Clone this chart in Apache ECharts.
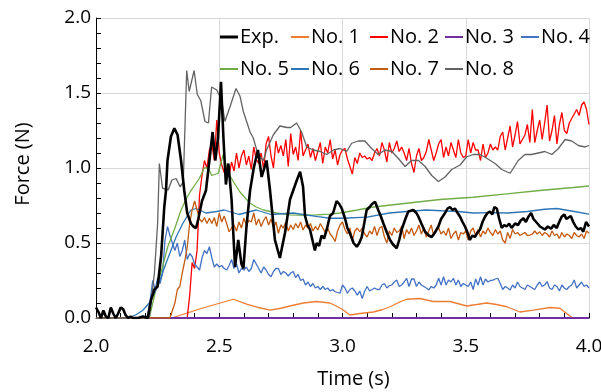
<!DOCTYPE html>
<html><head><meta charset="utf-8">
<script src="https://cdn.jsdelivr.net/npm/echarts@6/dist/echarts.min.js"></script>
<style>html,body{margin:0;padding:0;background:#fff}#c{width:601px;height:392px}</style>
</head><body><div id="c"></div>
<script>
// ---------- DATA (time s, force N) ----------
const seriesNames = ['Exp.','No. 1','No. 2','No. 3','No. 4','No. 5','No. 6','No. 7','No. 8'];
const xTickLabels = ['2.0','2.5','3.0','3.5','4.0'];
const yTickLabels = ['0.0','0.5','1.0','1.5','2.0'];

const expData = [[2.00,0.07],[2.01,0.04],[2.02,0.0],[2.03,0.05],[2.04,0.01],[2.05,0.0],[2.06,0.07],[2.07,0.03],[2.08,0.0],[2.09,0.03],[2.10,0.07],[2.11,0.06],[2.12,0.02],[2.13,0.0],[2.14,0.01],[2.15,0.0],[2.17,0.0],[2.19,0.01],[2.21,0.0],
[2.223,0.12],[2.237,0.19],[2.25,0.21],[2.264,0.41],[2.277,0.74],[2.284,0.85],[2.29,1.05],[2.304,1.21],[2.318,1.265],[2.331,1.22],[2.345,1.05],[2.358,0.85],[2.37,0.7],[2.385,0.63],[2.395,0.61],[2.406,0.6],[2.415,0.66],[2.43,0.78],[2.446,0.85],[2.46,1.05],[2.473,1.24],[2.484,1.05],[2.495,1.2],[2.507,1.575],[2.517,1.2],[2.527,0.89],[2.537,1.03],[2.55,0.79],[2.564,0.34],[2.577,0.52],[2.59,0.36],[2.598,0.33],[2.61,0.6],[2.625,0.85],[2.64,1.0],[2.657,1.12],[2.672,0.94],[2.692,1.05],[2.706,0.85],[2.726,0.52],[2.746,0.4],[2.767,0.57],[2.787,0.79],[2.80,0.85],[2.815,0.92],[2.828,0.975],[2.84,0.875],[2.848,0.68],[2.858,0.62],[2.868,0.59],[2.878,0.52],[2.888,0.45],[2.895,0.5],[2.905,0.48],[2.915,0.55],[2.925,0.53],[2.936,0.59],[2.949,0.68],[2.962,0.7],[2.976,0.78],[2.987,0.76],[2.997,0.73],
[3.01,0.665],[3.02,0.6],[3.03,0.565],[3.045,0.5],[3.058,0.475],[3.068,0.5],[3.078,0.54],[3.088,0.63],[3.098,0.72],[3.11,0.74],[3.12,0.76],[3.132,0.775],[3.145,0.72],[3.155,0.68],[3.166,0.63],[3.18,0.57],[3.193,0.52],[3.205,0.49],[3.22,0.465],[3.23,0.52],[3.24,0.59],[3.255,0.66],[3.267,0.71],[3.287,0.72],[3.3,0.70],[3.308,0.675],[3.32,0.63],[3.335,0.575],[3.35,0.55],[3.362,0.54],[3.375,0.57],[3.389,0.61],[3.4,0.66],[3.416,0.70],[3.426,0.73],[3.436,0.74],[3.446,0.72],[3.456,0.73],[3.467,0.70],[3.477,0.675],[3.487,0.64],[3.497,0.61],[3.507,0.57],[3.517,0.52],[3.527,0.55],[3.537,0.54],[3.548,0.57],[3.558,0.59],[3.568,0.64],[3.578,0.675],[3.588,0.70],[3.598,0.71],[3.608,0.69],[3.616,0.74],[3.626,0.73],[3.636,0.66],[3.646,0.60],[3.656,0.62],[3.666,0.61],[3.676,0.63],[3.686,0.60],[3.7,0.63],[3.712,0.62],[3.723,0.65],[3.734,0.665],[3.744,0.64],[3.754,0.675],[3.765,0.70],[3.775,0.66],[3.781,0.665],[3.791,0.63],[3.801,0.61],[3.811,0.60],[3.821,0.59],[3.833,0.61],[3.846,0.595],[3.857,0.62],[3.869,0.60],[3.879,0.64],[3.889,0.675],[3.9,0.69],[3.908,0.66],[3.916,0.665],[3.926,0.68],[3.936,0.64],[3.946,0.61],[3.957,0.59],[3.967,0.60],[3.977,0.575],[3.988,0.64],[4.0,0.61]];

const no1Data = [[2.0,0],[2.307,0],[2.43,0.065],[2.557,0.125],[2.611,0.093],[2.66,0.07],[2.706,0.053],[2.75,0.065],[2.787,0.08],[2.841,0.10],[2.895,0.11],[2.949,0.10],[2.975,0.08],[3.003,0.053],[3.03,0.02],[3.071,0.03],[3.125,0.04],[3.16,0.055],[3.193,0.075],[3.23,0.105],[3.26,0.125],[3.314,0.13],[3.368,0.11],[3.436,0.11],[3.504,0.08],[3.545,0.09],[3.585,0.1],[3.625,0.09],[3.666,0.075],[3.72,0.04],[3.774,0.053],[3.842,0.07],[3.882,0.065],[3.909,0.03],[3.93,0.005],[3.94,0],[4.0,0]];

const no2Data = [[2.0,0],[2.37,0],[2.38,0.15],[2.39,0.37],[2.40,0.33],[2.41,0.45],[2.42,0.82],[2.43,0.95],[2.44,1.05],[2.45,1.00],[2.46,1.12],[2.47,1.16],[2.48,1.05],[2.49,1.32],[2.50,1.10],[2.51,1.02],[2.52,0.97],[2.53,1.01],[2.54,0.95],[2.55,1.04],[2.56,0.98],[2.57,1.10],[2.58,1.00],[2.59,1.08],[2.60,1.12],[2.61,1.02],[2.62,1.08],[2.63,0.99],[2.64,1.14],[2.65,1.06],[2.66,1.03],[2.67,1.10],[2.68,0.99],[2.69,1.16],[2.70,1.21],[2.71,1.08],[2.72,1.00],[2.73,1.18],[2.74,1.10],[2.75,1.15],[2.76,1.08],[2.77,1.19],[2.78,1.01],[2.79,1.23],[2.80,1.09],[2.81,1.14],[2.82,1.05],[2.83,1.25],[2.84,1.08],[2.85,1.12],[2.86,1.16],[2.87,1.07],[2.88,1.13],[2.89,1.05],[2.90,1.11],[2.91,1.17],[2.92,1.03],[2.93,1.14],[2.94,1.10],[2.95,1.19],[2.96,1.06],[2.97,1.12],[2.98,1.02],[2.99,1.09],
[3.00,1.12],[3.01,1.13],[3.02,1.06],[3.03,1.01],[3.04,0.96],[3.05,1.07],[3.06,1.03],[3.07,1.10],[3.08,1.07],[3.09,1.08],[3.10,1.06],[3.11,1.07],[3.12,1.05],[3.13,1.10],[3.14,1.13],[3.15,1.08],[3.16,1.17],[3.17,1.12],[3.18,1.04],[3.19,1.17],[3.20,1.10],[3.21,1.13],[3.22,1.18],[3.23,1.11],[3.24,1.14],[3.25,1.10],[3.26,1.05],[3.27,1.13],[3.28,1.03],[3.29,0.97],[3.30,1.08],[3.31,1.13],[3.32,1.05],[3.33,1.07],[3.34,1.11],[3.35,1.19],[3.36,1.12],[3.37,1.05],[3.38,1.10],[3.39,1.16],[3.40,1.19],[3.41,1.07],[3.42,1.14],[3.43,1.08],[3.44,1.17],[3.45,1.12],[3.46,1.07],[3.47,1.19],[3.48,1.10],[3.49,1.07],
[3.50,1.08],[3.51,1.19],[3.52,1.10],[3.53,1.17],[3.54,1.12],[3.55,1.12],[3.56,1.05],[3.57,1.16],[3.58,1.07],[3.59,1.10],[3.60,1.16],[3.61,1.12],[3.62,1.14],[3.63,1.12],[3.64,1.21],[3.65,1.24],[3.66,1.12],[3.67,1.20],[3.68,1.28],[3.69,1.14],[3.70,1.22],[3.71,1.31],[3.72,1.16],[3.73,1.19],[3.74,1.22],[3.75,1.29],[3.76,1.17],[3.77,1.39],[3.78,1.17],[3.79,1.25],[3.80,1.32],[3.81,1.19],[3.82,1.30],[3.83,1.42],[3.84,1.18],[3.85,1.25],[3.86,1.35],[3.87,1.16],[3.88,1.29],[3.89,1.37],[3.90,1.25],[3.91,1.23],[3.92,1.30],[3.93,1.33],[3.94,1.36],[3.95,1.39],[3.96,1.35],[3.97,1.42],[3.98,1.44],[3.99,1.39],[4.00,1.29]];

const no3Data = [[2.0,0],[4.0,0]];

const no4Data = [[2.0,0],[2.20,0],[2.21,0.02],[2.22,0.12],[2.23,0.25],[2.24,0.19],[2.25,0.265],[2.26,0.23],[2.27,0.30],[2.28,0.52],[2.29,0.61],[2.30,0.55],[2.31,0.50],[2.32,0.45],[2.33,0.50],[2.34,0.41],[2.35,0.45],[2.36,0.52],[2.37,0.39],[2.38,0.43],[2.39,0.41],[2.40,0.36],[2.41,0.34],[2.42,0.32],[2.43,0.40],[2.44,0.45],[2.45,0.43],[2.46,0.475],[2.47,0.40],[2.48,0.34],[2.49,0.36],[2.50,0.34],[2.51,0.35],[2.52,0.33],[2.53,0.32],[2.54,0.35],[2.55,0.39],[2.56,0.33],[2.57,0.36],[2.58,0.30],[2.59,0.33],[2.60,0.32],[2.61,0.34],[2.62,0.31],[2.63,0.33],[2.64,0.39],[2.65,0.36],[2.66,0.33],[2.67,0.30],[2.68,0.34],[2.69,0.32],[2.70,0.29],[2.71,0.275],[2.72,0.31],[2.73,0.33],[2.74,0.33],[2.75,0.29],[2.76,0.31],[2.77,0.30],[2.78,0.28],[2.79,0.30],[2.80,0.31],[2.81,0.27],[2.82,0.29],[2.83,0.25],[2.84,0.26],[2.85,0.22],[2.86,0.24],[2.87,0.21],[2.88,0.23],[2.89,0.20],[2.90,0.21],[2.91,0.19],[2.92,0.21],[2.93,0.19],[2.94,0.20],[2.95,0.18],[2.96,0.19],[2.97,0.175],[2.98,0.17],[2.99,0.165],
[3.00,0.22],[3.01,0.20],[3.02,0.165],[3.03,0.19],[3.04,0.20],[3.05,0.18],[3.06,0.153],[3.07,0.18],[3.08,0.13],[3.09,0.18],[3.10,0.21],[3.11,0.18],[3.12,0.19],[3.13,0.20],[3.14,0.19],[3.15,0.19],[3.16,0.22],[3.17,0.23],[3.18,0.20],[3.19,0.215],[3.20,0.22],[3.21,0.24],[3.22,0.253],[3.23,0.21],[3.24,0.22],[3.25,0.24],[3.26,0.265],[3.27,0.21],[3.28,0.26],[3.29,0.26],[3.30,0.21],[3.31,0.24],[3.32,0.22],[3.33,0.21],[3.34,0.20],[3.35,0.187],[3.36,0.21],[3.37,0.20],[3.38,0.22],[3.39,0.265],[3.40,0.22],[3.41,0.275],[3.42,0.22],[3.43,0.253],[3.44,0.24],[3.45,0.265],[3.46,0.22],[3.47,0.253],[3.48,0.21],[3.49,0.23],
[3.50,0.22],[3.51,0.21],[3.52,0.24],[3.53,0.19],[3.54,0.26],[3.55,0.22],[3.56,0.275],[3.57,0.22],[3.58,0.26],[3.59,0.24],[3.60,0.25],[3.61,0.253],[3.62,0.26],[3.63,0.265],[3.64,0.23],[3.65,0.19],[3.66,0.21],[3.67,0.20],[3.68,0.187],[3.69,0.22],[3.70,0.20],[3.71,0.24],[3.72,0.21],[3.73,0.20],[3.74,0.19],[3.75,0.22],[3.76,0.21],[3.77,0.20],[3.78,0.19],[3.79,0.22],[3.80,0.24],[3.81,0.21],[3.82,0.22],[3.83,0.243],[3.84,0.20],[3.85,0.19],[3.86,0.22],[3.87,0.21],[3.88,0.18],[3.89,0.22],[3.90,0.20],[3.91,0.19],[3.92,0.21],[3.93,0.22],[3.94,0.253],[3.95,0.20],[3.96,0.22],[3.97,0.24],[3.98,0.21],[3.99,0.22],[4.00,0.20]];

const no5Data = [[2.0,0],[2.216,0],[2.243,0.19],[2.27,0.34],[2.291,0.475],[2.318,0.59],[2.345,0.72],[2.365,0.79],[2.385,0.85],[2.392,0.865],[2.419,0.93],[2.439,1.0],[2.456,1.0],[2.469,0.95],[2.496,0.965],[2.516,1.09],[2.537,0.965],[2.557,0.91],[2.584,0.84],[2.611,0.79],[2.625,0.765],[2.65,0.74],[2.679,0.72],[2.733,0.70],[2.787,0.687],[2.85,0.685],[2.895,0.687],[2.949,0.693],[2.99,0.70],[3.06,0.72],[3.125,0.74],[3.26,0.765],[3.396,0.79],[3.53,0.805],[3.666,0.827],[3.80,0.85],[3.936,0.87],[4.0,0.88]];

const no6Data = [[2.0,0],[2.13,0],[2.16,0.02],[2.189,0.05],[2.216,0.1],[2.25,0.21],[2.284,0.365],[2.325,0.54],[2.352,0.63],[2.385,0.72],[2.406,0.73],[2.446,0.70],[2.49,0.71],[2.52,0.72],[2.58,0.69],[2.65,0.72],[2.71,0.69],[2.8,0.70],[2.9,0.676],[2.95,0.665],[3.0,0.665],[3.1,0.672],[3.19,0.70],[3.26,0.71],[3.34,0.72],[3.40,0.715],[3.47,0.71],[3.53,0.70],[3.6,0.702],[3.67,0.70],[3.75,0.71],[3.82,0.725],[3.87,0.73],[3.94,0.71],[4.0,0.693]];

const no7Data = [[2.0,0],[2.30,0],[2.31,0.05],[2.32,0.10],[2.33,0.19],[2.34,0.21],[2.35,0.30],[2.36,0.38],[2.37,0.47],[2.38,0.63],[2.39,0.72],[2.40,0.78],[2.41,0.72],[2.42,0.66],[2.43,0.64],[2.44,0.67],[2.45,0.63],[2.46,0.665],[2.47,0.63],[2.48,0.67],[2.49,0.61],[2.50,0.70],[2.51,0.64],[2.52,0.68],[2.53,0.63],[2.54,0.575],[2.55,0.60],[2.56,0.62],[2.57,0.58],[2.58,0.64],[2.59,0.60],[2.60,0.665],[2.61,0.62],[2.62,0.65],[2.63,0.64],[2.64,0.70],[2.65,0.62],[2.66,0.66],[2.67,0.61],[2.68,0.65],[2.69,0.676],[2.70,0.62],[2.71,0.66],[2.72,0.60],[2.73,0.64],[2.74,0.565],[2.75,0.62],[2.76,0.60],[2.77,0.64],[2.78,0.58],[2.79,0.62],[2.80,0.59],[2.81,0.63],[2.82,0.60],[2.83,0.64],[2.84,0.587],[2.85,0.62],[2.86,0.60],[2.87,0.63],[2.88,0.58],[2.89,0.61],[2.90,0.587],[2.91,0.63],[2.92,0.60],[2.93,0.57],[2.94,0.60],[2.95,0.56],[2.96,0.54],[2.97,0.51],[2.98,0.58],[2.99,0.62],
[3.00,0.64],[3.01,0.59],[3.02,0.56],[3.03,0.60],[3.04,0.52],[3.05,0.58],[3.06,0.60],[3.07,0.575],[3.08,0.60],[3.09,0.56],[3.10,0.54],[3.11,0.58],[3.12,0.56],[3.13,0.61],[3.14,0.55],[3.15,0.60],[3.16,0.61],[3.17,0.54],[3.18,0.50],[3.19,0.58],[3.20,0.55],[3.21,0.60],[3.22,0.57],[3.23,0.58],[3.24,0.61],[3.25,0.53],[3.26,0.59],[3.27,0.56],[3.28,0.60],[3.29,0.55],[3.30,0.58],[3.31,0.62],[3.32,0.56],[3.33,0.60],[3.34,0.54],[3.35,0.58],[3.36,0.62],[3.37,0.55],[3.38,0.59],[3.39,0.60],[3.40,0.56],[3.41,0.58],[3.42,0.55],[3.43,0.60],[3.44,0.53],[3.45,0.56],[3.46,0.58],[3.47,0.52],[3.48,0.57],[3.49,0.56],
[3.50,0.58],[3.51,0.52],[3.52,0.58],[3.53,0.60],[3.54,0.55],[3.55,0.59],[3.56,0.54],[3.57,0.58],[3.58,0.56],[3.59,0.60],[3.60,0.57],[3.61,0.55],[3.62,0.59],[3.63,0.56],[3.64,0.58],[3.65,0.52],[3.66,0.50],[3.67,0.57],[3.68,0.53],[3.69,0.59],[3.70,0.56],[3.71,0.57],[3.72,0.55],[3.73,0.56],[3.74,0.57],[3.75,0.55],[3.76,0.553],[3.77,0.56],[3.78,0.58],[3.79,0.56],[3.80,0.575],[3.81,0.55],[3.82,0.57],[3.83,0.56],[3.84,0.54],[3.85,0.58],[3.86,0.55],[3.87,0.56],[3.88,0.53],[3.89,0.57],[3.90,0.54],[3.91,0.56],[3.92,0.55],[3.93,0.53],[3.94,0.57],[3.95,0.55],[3.96,0.54],[3.97,0.56],[3.98,0.53],[3.99,0.58],[4.00,0.565]];

const no8Data = [[2.0,0],[2.216,0],[2.237,0.3],[2.25,0.63],[2.257,1.03],[2.27,0.865],[2.293,0.855],[2.308,0.92],[2.325,0.93],[2.341,0.875],[2.354,0.905],[2.362,0.9],[2.368,1.65],[2.378,1.51],[2.398,1.65],[2.411,1.49],[2.425,1.45],[2.442,1.31],[2.456,1.30],[2.469,1.54],[2.49,1.52],[2.51,1.45],[2.523,1.31],[2.544,1.41],[2.568,1.53],[2.584,1.48],[2.598,1.375],[2.611,1.31],[2.625,1.24],[2.638,1.2],[2.652,1.12],[2.665,1.075],[2.679,1.05],[2.692,1.12],[2.719,1.22],[2.746,1.28],[2.774,1.27],[2.79,1.27],[2.814,1.30],[2.834,1.24],[2.855,1.14],[2.882,1.12],[2.909,1.11],[2.936,1.09],[2.963,1.12],[2.99,1.13],[3.017,1.11],[3.037,1.165],[3.064,1.18],[3.091,1.18],[3.118,1.13],[3.145,1.09],[3.172,1.12],[3.20,1.11],[3.226,1.065],[3.254,1.01],[3.28,1.05],[3.308,1.05],[3.335,1.01],[3.362,0.95],[3.389,0.91],[3.416,0.94],[3.443,0.99],[3.477,1.02],[3.504,1.075],[3.531,1.09],[3.558,1.09],[3.585,1.065],[3.619,1.03],[3.646,0.99],[3.68,0.965],[3.713,1.05],[3.74,1.09],[3.767,1.09],[3.794,1.10],[3.821,1.11],[3.849,1.09],[3.876,1.13],[3.903,1.19],[3.93,1.18],[3.957,1.15],[3.984,1.14],[4.0,1.15]];

const allData = [expData,no1Data,no2Data,no3Data,no4Data,no5Data,no6Data,no7Data,no8Data];

// ---------- STYLE / LAYOUT ----------
const colors = ['#000000','#ED7D31','#FF0000','#7030A0','#4472C4','#70AD47','#2E75B6','#C55A11','#636363'];
const lineWidths = [2.6,1.3,1.3,2,1.3,1.3,1.3,1.3,1.3];
const legendPos = [[220,27],[291,27],[370,27],[445,27],[521,27],[220,59],[291,59],[370,59],[445,59]];
const FONT = 'Open Sans';

const chart = echarts.init(document.getElementById('c'), null, {renderer:'canvas'});
const series = seriesNames.map((n,i)=>({
  name:n, type:'line', data:allData[i], showSymbol:false, symbol:'none',
  lineStyle:{color:colors[i], width:lineWidths[i]}, itemStyle:{color:colors[i]},
  z: i===0 ? 5 : 2, animation:false, clip: i!==3
}));
const legends = seriesNames.map((n,i)=>({
  data:[n], left:legendPos[i][0], top:legendPos[i][1], padding:0, selectedMode:false,
  icon:'rect', itemWidth:18, itemHeight: i===0?3:2,
  textStyle:{fontFamily:FONT, fontSize:20, color:'#000', padding:[0,0,0,-3]}
}));
chart.setOption({
  backgroundColor:'#fff',
  animation:false,
  grid:{left:96, right:12, top:18, bottom:74, containLabel:false, outerBoundsMode:'none'},
  legend:legends,
  xAxis:{type:'value', min:2, max:4, interval:0.5,
    name:'Time (s)', nameLocation:'middle', nameGap:51,
    nameTextStyle:{fontFamily:FONT, fontSize:20, color:'#000', padding:[0,0,0,22]},
    axisLine:{show:true, onZero:false, lineStyle:{color:'#000', width:1}},
    axisTick:{show:true, inside:true, length:5, lineStyle:{color:'#000'}},
    minorTick:{show:true, splitNumber:5, length:5, lineStyle:{color:'#000'}},
    axisLabel:{fontFamily:FONT, fontSize:19, color:'#000', margin:19,
      formatter:(v)=>xTickLabels[Math.round((v-2)/0.5)]},
    splitLine:{show:true, lineStyle:{color:'#d9d9d9', width:1}}
  },
  yAxis:{type:'value', min:0, max:2, interval:0.5,
    name:'Force (N)', nameLocation:'middle', nameGap:63, nameRotate:90,
    nameTextStyle:{fontFamily:FONT, fontSize:20, color:'#000', padding:[0,0,0,8]},
    axisLine:{show:true, onZero:false, lineStyle:{color:'#000', width:1}},
    axisTick:{show:true, inside:true, length:5, lineStyle:{color:'#000'}},
    minorTick:{show:true, splitNumber:5, length:5, lineStyle:{color:'#000'}},
    axisLabel:{fontFamily:FONT, fontSize:19, color:'#000', margin:5,
      formatter:(v)=>yTickLabels[Math.round(v/0.5)]},
    splitLine:{show:true, lineStyle:{color:'#d9d9d9', width:1}}
  },
  series:series
});
</script></body></html>
